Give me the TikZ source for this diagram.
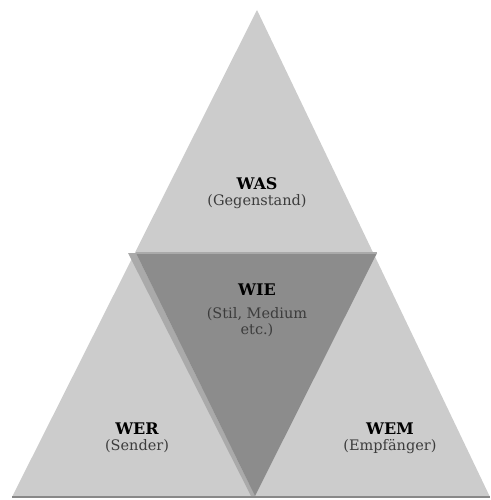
\documentclass[tikz,border=0pt]{standalone}
\usepackage{fontspec}
\setmainfont{DejaVu Serif}
\usetikzlibrary{positioning}
\definecolor{lightpart}{RGB}{204,204,204}
\definecolor{darkpart}{RGB}{140,140,140}
\definecolor{bevel}{RGB}{170,170,170}
\definecolor{subtext}{RGB}{60,60,60}
\begin{document}
\begin{tikzpicture}[x=1pt,y=-1pt,node distance=0pt]
	\tikzstyle{title}
	  =[font=\fontsize{16}{17}\selectfont\bfseries, inner sep=1pt]
	\tikzstyle{sub}
	  =[font=\fontsize{14.5}{16}\selectfont, text=subtext, inner sep=1pt, align=center]

	\useasboundingbox (0,0) rectangle (490,500);

	% corners
	\coordinate (top) at (257,10);
	\coordinate (bl) at (12,497);
	\coordinate (br) at (490,497);
	\coordinate (ml) at (136,253);
	\coordinate (mr) at (377,253);
	\coordinate (mb) at (255,496);

	\fill[lightpart] (top) -- (br) -- (bl) -- cycle;
	\fill[bevel] (ml) -- (mb) -- ++(-4,0) -- (128,253) -- cycle;
	\fill[darkpart] (ml) -- (mr) -- (mb) -- cycle;
	\draw[bevel, line width=2pt] (ml) -- (mr);
	\draw[bevel!80!black, line width=2pt] (bl) -- (br);

	\node[title] (was) at (257,184) {WAS};
	\node[sub] (gegenstand) [below=2pt of was] {(Gegenstand)};

	\node[title] (wie) at (257,290) {WIE};
	\node[sub] (stil) [below=9pt of wie] {(Stil, Medium\\etc.)};

	\node[title] (wer) at (137,429) {WER};
	\node[sub] (sender) [below=2pt of wer] {(Sender)};

	\node[title] (wem) at (390,429) {WEM};
	\node[sub] (empf) [below=2pt of wem] {(Empfänger)};
\end{tikzpicture}
\end{document}
